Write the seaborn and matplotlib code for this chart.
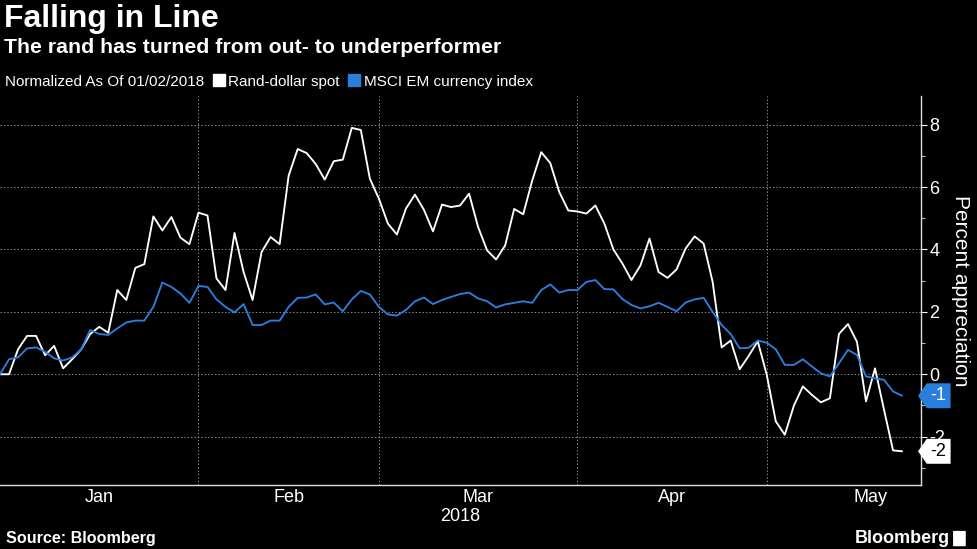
import numpy as np
import matplotlib
matplotlib.use("Agg")
import matplotlib.pyplot as plt
from matplotlib.lines import Line2D
from matplotlib.patches import FancyBboxPatch
from matplotlib.path import Path
from matplotlib.ticker import FixedLocator, MultipleLocator
import seaborn as sns
import pandas as pd

# business days from 01/02/2018 to 05/22/2018
dates = pd.bdate_range("2018-01-02", "2018-05-22")

rand_spot = [
    0.00, 0.00, 0.80, 1.23, 1.23, 0.61, 0.91, 0.19, 0.48, 0.80,
    1.29, 1.52, 1.33, 2.70, 2.38, 3.41, 3.53, 5.06, 4.61, 5.04,
    4.38, 4.17, 5.18, 5.09, 3.07, 2.70, 4.53, 3.28, 2.38, 3.92,
    4.40, 4.17, 6.37, 7.22, 7.09, 6.74, 6.24, 6.83, 6.88, 7.90,
    7.83, 6.27, 5.63, 4.83, 4.48, 5.31, 5.76, 5.27, 4.58, 5.44,
    5.36, 5.41, 5.79, 4.72, 3.97, 3.68, 4.13, 5.30, 5.13, 6.21,
    7.12, 6.77, 5.84, 5.25, 5.22, 5.15, 5.41, 4.83, 4.00, 3.55,
    3.02, 3.49, 4.35, 3.28, 3.09, 3.36, 4.03, 4.42, 4.19, 2.96,
    0.86, 1.08, 0.16, 0.59, 1.06, -0.02, -1.51, -1.94, -1.01, -0.39,
    -0.66, -0.90, -0.77, 1.29, 1.61, 1.04, -0.87, 0.19, -1.14, -2.44,
    -2.47,
]

msci_em = [
    0.00, 0.48, 0.54, 0.83, 0.86, 0.72, 0.51, 0.44, 0.54, 0.80,
    1.42, 1.29, 1.26, 1.47, 1.66, 1.72, 1.72, 2.16, 2.94, 2.80,
    2.59, 2.29, 2.83, 2.80, 2.40, 2.16, 1.98, 2.25, 1.58, 1.58,
    1.72, 1.72, 2.16, 2.45, 2.46, 2.56, 2.24, 2.30, 2.02, 2.40,
    2.67, 2.56, 2.16, 1.92, 1.88, 2.06, 2.34, 2.46, 2.25, 2.38,
    2.48, 2.57, 2.62, 2.43, 2.34, 2.14, 2.24, 2.29, 2.34, 2.29,
    2.70, 2.88, 2.62, 2.70, 2.70, 2.96, 3.02, 2.73, 2.72, 2.41,
    2.22, 2.11, 2.18, 2.29, 2.16, 2.02, 2.30, 2.40, 2.45, 2.00,
    1.58, 1.29, 0.83, 0.85, 1.08, 1.01, 0.80, 0.30, 0.30, 0.48,
    0.25, 0.03, -0.07, 0.35, 0.78, 0.62, -0.07, -0.13, -0.18, -0.55,
    -0.69,
]

series_names = ["Rand-dollar spot", "MSCI EM currency index"]
series_colors = ["#ffffff", "#2a7fdc"]
y_ticks = [-2, 0, 2, 4, 6, 8]

df = pd.DataFrame({
    "day": np.arange(len(dates)),
    series_names[0]: rand_spot,
    series_names[1]: msci_em,
})
long_df = df.melt(id_vars="day", var_name="series", value_name="pct")

sns.set_theme(style="dark", rc={
    "figure.facecolor": "black",
    "axes.facecolor": "black",
    "savefig.facecolor": "black",
    "text.color": "white",
    "axes.labelcolor": "white",
    "xtick.color": "white",
    "ytick.color": "white",
})
plt.rcParams["font.family"] = ["Liberation Sans", "DejaVu Sans"]


def tag_box(x0, y0, width, height, mutation_size):
    # rectangle with a small pointed notch on the left, like Bloomberg's value tags
    pad = 0.22 * mutation_size
    x0, y0 = x0 - pad, y0 - pad
    width, height = width + 2 * pad, height + 2 * pad
    tip = 0.35 * height
    verts = [(x0, y0), (x0 + width, y0), (x0 + width, y0 + height),
             (x0, y0 + height), (x0 - tip, y0 + height / 2), (x0, y0)]
    return Path(verts, closed=True)


fig = plt.figure(figsize=(9.77, 5.49), dpi=100)
ax = fig.add_axes([0.0, 0.1166, 0.9427, 0.7085])

sns.lineplot(data=long_df, x="day", y="pct", hue="series",
             hue_order=series_names, palette=series_colors,
             linewidth=1.35, legend=False, ax=ax)

# month boundaries on a business-day axis
month_id = dates.month
bounds = [i for i in range(1, len(dates)) if month_id[i] != month_id[i - 1]]
may_full = len(pd.bdate_range("2018-05-01", "2018-05-31"))
edges = [0] + bounds + [bounds[-1] + may_full]
mids = [(edges[k] + edges[k + 1]) / 2 for k in range(len(edges) - 1)]
month_names = ["Jan", "Feb", "Mar", "Apr", "May"]

ax.set_xlim(0, 102.1)
ax.set_ylim(-3.55, 8.92)

ax.xaxis.set_major_locator(FixedLocator(bounds))
ax.set_xticklabels([], minor=False)
ax.set_xticks(mids, month_names, minor=True)
ax.tick_params(axis="x", which="major", length=5, width=0.8, color="#bbbbbb")
ax.tick_params(axis="x", which="minor", length=0, pad=3, labelsize=13)

ax.yaxis.tick_right()
ax.yaxis.set_label_position("right")
ax.set_yticks(y_ticks)
ax.set_yticklabels([str(t) for t in y_ticks])
ax.yaxis.set_minor_locator(MultipleLocator(2, offset=1))
ax.tick_params(axis="y", which="major", length=4, width=0.8, pad=2, labelsize=13)
ax.tick_params(axis="y", which="minor", right=True, length=3, width=0.8,
               color="#bbbbbb")

ax.grid(True, which="major", axis="both", color="#8a8a8a",
        linestyle=(0, (1.5, 2)), linewidth=0.7)
ax.set_xlabel("2018", fontsize=13, labelpad=1)
ax.set_ylabel("Percent appreciation", fontsize=15, rotation=270, labelpad=18)

for side in ["top", "left"]:
    ax.spines[side].set_visible(False)
for side in ["right", "bottom"]:
    ax.spines[side].set_visible(True)
    ax.spines[side].set_color("#dddddd")
    ax.spines[side].set_linewidth(1.0)

# end-value tags on the right axis
ax.annotate("-1", xy=(1.0, msci_em[-1]), xycoords=("axes fraction", "data"),
            xytext=(7, 0), textcoords="offset points", ha="left", va="center",
            fontsize=13, color="white", zorder=5,
            bbox=dict(boxstyle=tag_box, fc=series_colors[1], ec="none"))
ax.annotate("-2", xy=(1.0, rand_spot[-1]), xycoords=("axes fraction", "data"),
            xytext=(7, 0), textcoords="offset points", ha="left", va="center",
            fontsize=13, color="black", zorder=5,
            bbox=dict(boxstyle=tag_box, fc="white", ec="none"))

# titles
fig.text(0.004, 0.966, "Falling in Line", fontsize=23, fontweight="bold",
         va="center", ha="left")
fig.text(0.004, 0.913, "The rand has turned from out- to underperformer",
         fontsize=15.3, fontweight="bold", va="center", ha="left")
fig.text(0.005, 0.851, "Normalized As Of 01/02/2018", fontsize=11,
         va="center", ha="left")
handles = [Line2D([], [], linestyle="none", marker="s", markersize=8,
                  markerfacecolor=c, markeredgecolor=c) for c in series_colors]
fig.legend(handles, series_names, loc="center left",
           bbox_to_anchor=(0.219, 0.851), ncol=2, frameon=False,
           fontsize=11, handlelength=0.7, handletextpad=0.25,
           columnspacing=0.6, borderpad=0, borderaxespad=0)

fig.text(0.006, 0.02, "Source: Bloomberg", fontsize=11.6, fontweight="bold",
         va="center", ha="left")
fig.text(0.972, 0.02, "Bloomberg", fontsize=13, fontweight="bold",
         va="center", ha="right")
fig.patches.append(FancyBboxPatch((0.9765, 0.006), 0.011, 0.026,
                                  boxstyle="round,pad=0.001", fc="white",
                                  ec="none", transform=fig.transFigure,
                                  figure=fig))

fig.savefig("out.png", dpi=100)
